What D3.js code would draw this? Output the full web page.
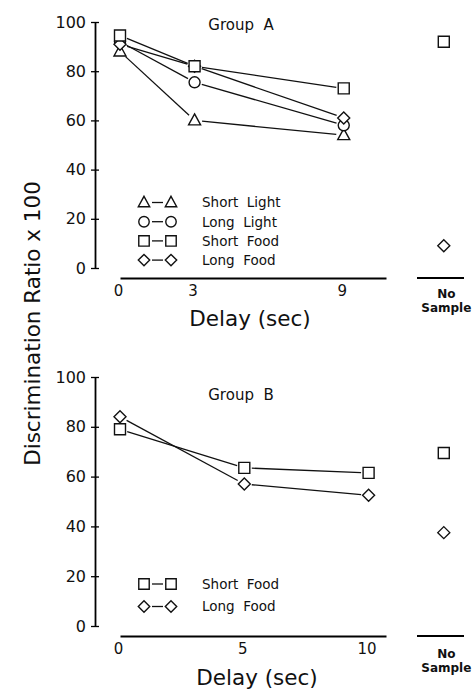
<!DOCTYPE html>
<html>
<head>
<meta charset="utf-8">
<script src="https://cdn.jsdelivr.net/npm/d3@7"></script>
<style>
  body { margin: 0; background: #fff; }
  svg text { font-family: "DejaVu Sans", Verdana, sans-serif; fill: #111; white-space: pre; }
</style>
</head>
<body>
<div id="chart"></div>
<script>
// ---- data ----
var delaysA = [0, 3, 9];
var shortLightA = [88, 60, 54];
var longLightA = [92, 75.5, 58];
var shortFoodA = [94.5, 82, 73];
var longFoodA = [91, 82, 61];
var noSampleA = {shortFood: 92, longFood: 9};

var delaysB = [0, 5, 10];
var shortFoodB = [79, 63.5, 61.5];
var longFoodB = [84, 57, 52.5];
var noSampleB = {shortFood: 69.5, longFood: 37.5};

var yTicks = [0, 20, 40, 60, 80, 100];
var legendA = [
  {shape: "triangle", label: "Short  Light"},
  {shape: "circle", label: "Long  Light"},
  {shape: "square", label: "Short  Food"},
  {shape: "diamond", label: "Long  Food"}
];
var legendB = [
  {shape: "square", label: "Short  Food"},
  {shape: "diamond", label: "Long  Food"}
];

var width = 472, height = 689;

var svg = d3.select("#chart")
    .append("svg")
    .attr("width", width)
    .attr("height", height);

function shapePath(type, s) {
  s = s || 1;
  if (type == "square") return "M" + (-5.5*s) + "," + (-5.5*s) + "h" + 11*s + "v" + 11*s + "h" + (-11*s) + "Z";
  if (type == "triangle") return "M0," + (-6.5*s) + "L" + 6*s + "," + 4.5*s + "L" + (-6*s) + "," + 4.5*s + "Z";
  if (type == "diamond") return "M0," + (-6*s) + "L" + 6*s + ",0L0," + 6*s + "L" + (-6*s) + ",0Z";
  return d3.symbol().type(d3.symbolCircle).size(95*s*s)();
}

function drawMarker(g, type, x, y, s) {
  g.append("path")
      .attr("d", shapePath(type, s))
      .attr("transform", "translate(" + x + "," + y + ")")
      .attr("fill", "#fff")
      .attr("stroke", "#111")
      .attr("stroke-width", 1.4);
}

// line segments stop a little short of the markers
function drawSeries(g, x, y, delays, values) {
  var pts = delays.map(function(d, i) { return [x(d), y(values[i])]; });
  var gap = 7.5;
  for (var i = 0; i < pts.length - 1; i++) {
    var dx = pts[i+1][0] - pts[i][0], dy = pts[i+1][1] - pts[i][1];
    var len = Math.sqrt(dx*dx + dy*dy);
    g.append("line")
        .attr("x1", pts[i][0] + dx/len*gap)
        .attr("y1", pts[i][1] + dy/len*gap)
        .attr("x2", pts[i+1][0] - dx/len*gap)
        .attr("y2", pts[i+1][1] - dy/len*gap)
        .attr("stroke", "#111")
        .attr("stroke-width", 1.3);
  }
  return pts;
}

function drawPanel(opt) {
  var g = svg.append("g");
  var x = d3.scaleLinear().domain([0, 10.7]).range([120, 386]);
  var y = d3.scaleLinear().domain([0, 100]).range([opt.y0, opt.y100]);
  var ns = d3.scalePoint().domain(["No Sample"]).range([417, 464]).align(0.57);

  // y axis with ticks crossing the line
  var ya = g.append("g")
      .attr("transform", "translate(95,0)")
      .call(d3.axisLeft(y).tickValues(yTicks).tickSize(4).tickSizeOuter(0).tickPadding(5));
  ya.selectAll(".tick line").attr("x1", 4).attr("stroke-width", 1.3);
  ya.select(".domain").attr("stroke-width", 1.8);
  ya.selectAll("text").style("font-size", "16px").attr("fill", "#111");

  // x axis (no tick marks)
  var xa = g.append("g")
      .attr("transform", "translate(0," + opt.xAxisY + ")")
      .call(d3.axisBottom(x).tickValues(opt.delays).tickSize(0).tickSizeOuter(0).tickPadding(7));
  xa.select(".domain").attr("stroke-width", 1.8);
  xa.selectAll("text").style("font-size", "15px").attr("fill", "#111").attr("dx", -2);

  // "No Sample" axis, label on two lines
  var na = g.append("g")
      .attr("transform", "translate(0," + opt.xAxisY + ")")
      .call(d3.axisBottom(ns).tickSize(0).tickSizeOuter(0).tickPadding(0));
  na.select(".domain").attr("d", "M417,0H464").attr("stroke-width", 1.8);
  na.selectAll("text")
      .style("font-size", "12px")
      .style("font-weight", "bold")
      .attr("fill", "#111")
      .attr("dy", null)
      .attr("y", 0)
      .text(null)
      .call(function(t) {
        t.append("tspan").attr("x", 2).attr("y", opt.noY).text("No");
        t.append("tspan").attr("x", 2).attr("y", opt.noY + 13.5).text("Sample");
      });

  // series
  opt.series.forEach(function(s) {
    var pts = drawSeries(g, x, y, opt.delays, s.values);
    pts.forEach(function(p) { drawMarker(g, s.shape, p[0], p[1]); });
  });
  opt.noSample.forEach(function(s) {
    drawMarker(g, s.shape, ns("No Sample"), y(s.value));
  });

  // title
  g.append("text")
      .attr("x", 241)
      .attr("y", opt.titleY)
      .attr("text-anchor", "middle")
      .style("font-size", "15px")
      .text(opt.title);

  // legend
  opt.legend.forEach(function(d, i) {
    var ly = opt.legendY + i * opt.legendStep;
    drawMarker(g, d.shape, 144, ly, 0.95);
    g.append("line")
        .attr("x1", 152).attr("x2", 163)
        .attr("y1", ly).attr("y2", ly)
        .attr("stroke", "#111").attr("stroke-width", 1.3);
    drawMarker(g, d.shape, 171, ly, 0.95);
    g.append("text")
        .attr("x", 202)
        .attr("y", ly)
        .attr("dy", "0.36em")
        .style("font-size", "13.5px")
        .text(d.label);
  });

  // x title
  g.append("text")
      .attr("x", opt.xTitleX)
      .attr("y", opt.xTitleY)
      .attr("text-anchor", "middle")
      .style("font-size", "21.5px")
      .text("Delay (sec)");
}

drawPanel({
  y0: 268, y100: 22, xAxisY: 278, delays: delaysA,
  title: "Group  A", titleY: 30, legendY: 202.5, legendStep: 19.2,
  xTitleX: 250, xTitleY: 326, noY: 20,
  series: [
    {shape: "triangle", values: shortLightA},
    {shape: "circle", values: longLightA},
    {shape: "diamond", values: longFoodA},
    {shape: "square", values: shortFoodA}
  ],
  noSample: [
    {shape: "square", value: noSampleA.shortFood},
    {shape: "diamond", value: noSampleA.longFood}
  ],
  legend: legendA
});

drawPanel({
  y0: 626, y100: 377, xAxisY: 636, delays: delaysB,
  title: "Group  B", titleY: 400, legendY: 584, legendStep: 22.5,
  xTitleX: 257, xTitleY: 685, noY: 22,
  series: [
    {shape: "square", values: shortFoodB},
    {shape: "diamond", values: longFoodB}
  ],
  noSample: [
    {shape: "square", value: noSampleB.shortFood},
    {shape: "diamond", value: noSampleB.longFood}
  ],
  legend: legendB
});

// shared y title
svg.append("text")
    .attr("transform", "translate(40,323.5) rotate(-90)")
    .attr("text-anchor", "middle")
    .style("font-size", "21.5px")
    .text("Discrimination Ratio x 100");
</script>
</body>
</html>
